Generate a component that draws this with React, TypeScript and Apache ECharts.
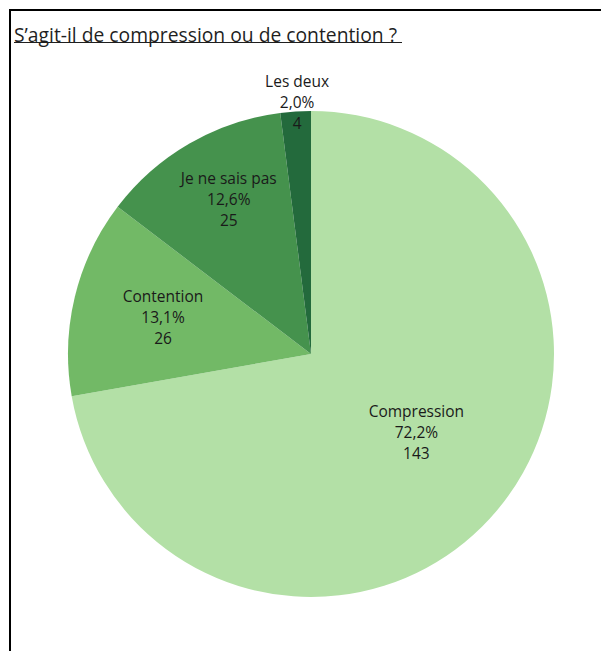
import React, { useEffect, useRef } from "react";
import * as echarts from "echarts";

const TITLE = "S’agit-il de compression ou de contention ?";
const categories = ["Compression", "Contention", "Je ne sais pas", "Les deux"];
const counts = [143, 26, 25, 4];
const colors = ["#b3e0a6", "#72b966", "#45924d", "#236a3c"];
// label offsets from the default "inside" position (styling only)
const labelOffsets: [number, number][] = [[10, -2], [-27, -8], [-20, -47], [-6, -128]];

export default function App() {
  const ref = useRef<HTMLDivElement>(null);
  useEffect(() => {
    if (!ref.current) return;
    const chart = echarts.init(ref.current, null, { renderer: "svg" });
    const font = "'Open Sans', 'Noto Sans', sans-serif";
    chart.setOption({
      animation: false,
      backgroundColor: "#ffffff",
      title: {
        text: TITLE,
        left: 14,
        top: 25,
        padding: 0,
        textStyle: { fontFamily: font, fontSize: 19.3, fontWeight: "normal", color: "#1f1f1f" },
      },
      graphic: [
        {
          type: "rect",
          shape: { x: 10, y: 10, width: 700, height: 700 },
          style: { fill: "none", stroke: "#000000", lineWidth: 2 },
          silent: true,
        },
        {
          type: "line",
          shape: { x1: 14, y1: 42.5, x2: 402, y2: 42.5 },
          style: { stroke: "#1f1f1f", lineWidth: 1 },
          silent: true,
        },
      ],
      series: [
        {
          type: "pie",
          center: [311, 354],
          radius: [0, 243],
          startAngle: 90,
          clockwise: true,
          avoidLabelOverlap: false,
          itemStyle: { borderWidth: 0 },
          emphasis: { disabled: true },
          label: {
            show: true,
            position: "inside",
            fontFamily: font,
            fontSize: 15.5,
            lineHeight: 21,
            color: "#1a1a1a",
            align: "center",
            formatter: (p: any) =>
              `${p.name}\n${p.percent.toFixed(1).replace(".", ",")}%\n${p.value}`,
          },
          labelLine: { show: false },
          data: categories.map((name, i) => ({
            name,
            value: counts[i],
            itemStyle: { color: colors[i] },
            label: { offset: labelOffsets[i] },
          })),
        },
      ],
    });
    return () => chart.dispose();
  }, []);
  return (
    <div
      ref={ref}
      style={{ position: "absolute", left: 0, top: 0, width: 601, height: 651 }}
    />
  );
}
